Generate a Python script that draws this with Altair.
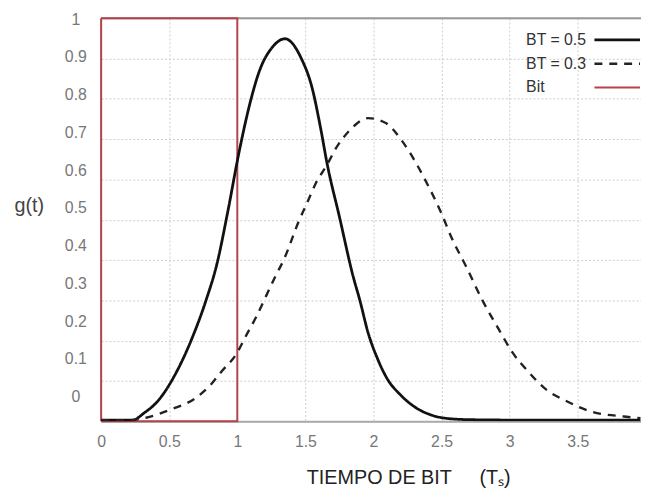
import altair as alt
import pandas as pd

# ---- data ----
t_bt05 = [0, 0.12, 0.23, 0.32, 0.41, 0.54, 0.66, 0.77, 0.85, 0.93, 1.01, 1.09, 1.16, 1.26,
          1.35, 1.47, 1.55, 1.61, 1.66, 1.75, 1.85, 1.90, 1.96, 2.03, 2.10, 2.20, 2.32, 2.44,
          2.58, 2.74, 3.2, 3.6, 3.96]
g_bt05 = [0.003, 0.003, 0.003, 0.022, 0.048, 0.114, 0.20, 0.30, 0.39, 0.52, 0.663, 0.785, 0.867, 0.929,
          0.949, 0.90, 0.826, 0.73, 0.638, 0.507, 0.36, 0.30, 0.22, 0.155, 0.106, 0.065, 0.032, 0.014,
          0.006, 0.004, 0.003, 0.003, 0.003]

t_bt03 = [0, 0.2, 0.33, 0.50, 0.69, 0.80, 0.88, 1.00, 1.06, 1.14, 1.21, 1.28, 1.34, 1.45, 1.52, 1.58,
          1.655, 1.727, 1.82, 1.96, 2.09, 2.20, 2.31, 2.39, 2.50, 2.57, 2.68, 2.80, 2.92, 3.02, 3.14,
          3.26, 3.43, 3.60, 3.84, 3.96]
g_bt03 = [0.003, 0.003, 0.009, 0.028, 0.057, 0.089, 0.122, 0.171, 0.21, 0.26, 0.31, 0.36, 0.40, 0.495,
          0.548, 0.593, 0.634, 0.679, 0.72, 0.752, 0.74, 0.70, 0.642, 0.592, 0.515, 0.458, 0.384, 0.30,
          0.228, 0.171, 0.122, 0.081, 0.048, 0.024, 0.012, 0.008]

t_bit = [0, 0, 1, 1, 0]
g_bit = [0, 1, 1, 0, 0]

series = ["BT = 0.5", "BT = 0.3", "Bit"]
x_ticks = [0, 0.5, 1, 1.5, 2, 2.5, 3, 3.5, 4]
y_ticks = [round(i * 0.1, 1) for i in range(11)]
x_title = "TIEMPO DE BIT" + "\u00a0" * 5 + "(Tₛ)"

# ---- tables ----
curves = pd.concat([
    pd.DataFrame({"t": t_bt05, "g": g_bt05, "serie": series[0]}),
    pd.DataFrame({"t": t_bt03, "g": g_bt03, "serie": series[1]}),
])
bit = pd.DataFrame({"t": t_bit, "g": g_bit, "serie": series[2], "i": range(len(t_bit))})

FONT = "Liberation Sans"

x_enc = alt.X("t:Q", scale=alt.Scale(domain=[0, 3.964], nice=False, zero=False),
              axis=alt.Axis(values=x_ticks, format=".1~f", title=x_title,
                            titleFontSize=20, titleFontWeight="normal", titleColor="#222",
                            titleFont=FONT, titleX=310, titleY=57, titleAnchor="middle",
                            titleBaseline="middle", labelFontSize=16, labelColor="#777",
                            labelFont=FONT, labelPadding=12, ticks=False, tickSize=0,
                            domainColor="#aaaaaa", domainWidth=2,
                            grid=True, gridColor="#cccccc", gridDash=[2, 2], labelFlush=False))
y_enc = alt.Y("g:Q", scale=alt.Scale(domain=[0, 1], nice=False),
              axis=alt.Axis(values=y_ticks, format=".1~f", title="g(t)", titleAngle=0,
                            titleFontSize=20, titleFontWeight="normal", titleColor="#444",
                            titleFont=FONT, titleX=-73, titleY=189, titleAlign="center",
                            titleBaseline="middle", labelFontSize=16, labelColor="#777",
                            labelFont=FONT, labelAlign="center", labelBaseline="middle",
                            labelPadding=26, ticks=False, tickSize=0, domain=False,
                            labelOffset=alt.ExprRef("-25 + 26 * datum.value"),
                            grid=True, gridColor="#cccccc", gridDash=[2, 2], labelFlush=False))

color = alt.Color("serie:N", sort=series,
                  scale=alt.Scale(domain=series, range=["#111111", "#222222", "#b5434c"]),
                  legend=alt.Legend(title=None, orient="none", legendX=513, legendY=14,
                                    symbolType="M-4.6,0H4.6", symbolSize=100,
                                    labelFontSize=16, labelColor="#333", labelFont=FONT,
                                    labelOffset=alt.ExprRef("-100"), rowPadding=8))
dash = alt.StrokeDash("serie:N", sort=series,
                      scale=alt.Scale(domain=series, range=[[1, 0], [8, 7], [1, 0]]),
                      legend=alt.Legend(title=None))
width_enc = alt.StrokeWidth("serie:N", sort=series,
                            scale=alt.Scale(domain=series, range=[2.8, 2.0, 3.0]),
                            legend=alt.Legend(title=None))

top_border = alt.Chart(pd.DataFrame({"g": [1.0]})).mark_rule(color="#999999", strokeWidth=2).encode(
    y=alt.Y("g:Q"))

bit_layer = alt.Chart(bit).mark_line(interpolate="linear").encode(
    x=x_enc, y=y_enc, color=color, strokeDash=dash, strokeWidth=width_enc,
    order=alt.Order("i:Q"))

curve_layer = alt.Chart(curves).mark_line(interpolate="monotone", clip=True).encode(
    x=x_enc, y=y_enc, color=color, strokeDash=dash, strokeWidth=width_enc)

chart = alt.layer(top_border, bit_layer, curve_layer).properties(
    width=545, height=407,
    autosize=alt.AutoSizeParams(type="none"),
    padding={"left": 94, "top": 8, "right": 0, "bottom": 66},
).configure_view(stroke=None).configure(background="white")

chart.save("out.html", embed_options={"renderer": "svg", "actions": False})
